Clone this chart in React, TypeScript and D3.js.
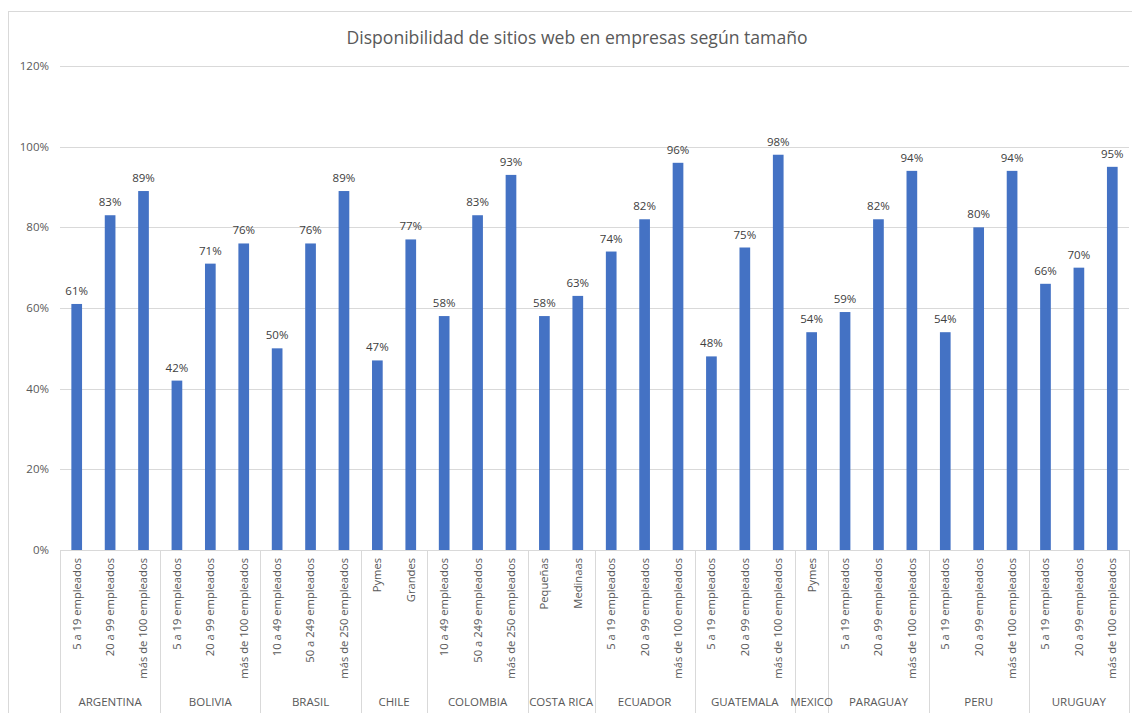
import React from "react";
import * as d3 from "d3";

// Countries (outer axis level) and how many size bands each one reports
const countries = [
  "ARGENTINA", "BOLIVIA", "BRASIL", "CHILE", "COLOMBIA", "COSTA RICA",
  "ECUADOR", "GUATEMALA", "MEXICO", "PARAGUAY", "PERU", "URUGUAY",
];

const sizesArgentina = ["5 a 19 empleados", "20 a 99 empleados", "más de 100 empleados"];
const sizesBrasil = ["10 a 49 empleados", "50 a 249 empleados", "más de 250 empleados"];
const sizesChile = ["Pymes", "Grandes"];
const sizesCostaRica = ["Pequeñas", "Medinaas"];
const sizesMexico = ["Pymes"];

const sizeLabels: string[][] = [
  sizesArgentina, // ARGENTINA
  sizesArgentina, // BOLIVIA
  sizesBrasil, // BRASIL
  sizesChile, // CHILE
  sizesBrasil, // COLOMBIA
  sizesCostaRica, // COSTA RICA
  sizesArgentina, // ECUADOR
  sizesArgentina, // GUATEMALA
  sizesMexico, // MEXICO
  sizesArgentina, // PARAGUAY
  sizesArgentina, // PERU
  sizesArgentina, // URUGUAY
];

// Share of companies with a website, per country and size band
const webShare: number[][] = [
  [0.61, 0.83, 0.89],
  [0.42, 0.71, 0.76],
  [0.5, 0.76, 0.89],
  [0.47, 0.77],
  [0.58, 0.83, 0.93],
  [0.58, 0.63],
  [0.74, 0.82, 0.96],
  [0.48, 0.75, 0.98],
  [0.54],
  [0.59, 0.82, 0.94],
  [0.54, 0.8, 0.94],
  [0.66, 0.7, 0.95],
];

const yTicks = [0, 0.2, 0.4, 0.6, 0.8, 1.0, 1.2];

const title = "Disponibilidad de sitios web en empresas según tamaño";

type Bar = { key: string; country: number; label: string; value: number };

const bars: Bar[] = [];
countries.forEach((_, ci) => {
  sizeLabels[ci].forEach((label, si) => {
    bars.push({ key: `${ci}-${si}`, country: ci, label, value: webShare[ci][si] });
  });
});

const W = 1132;
const H = 713;
const plot = { left: 60, right: 1129, top: 66, bottom: 550 };
const FONT = "'Open Sans', 'Noto Sans', sans-serif";
const GRID = "#D9D9D9";
const TEXT = "#595959";
const BAR = "#4472C4";

export default function App() {
  const x = d3
    .scaleBand<string>()
    .domain(bars.map((b) => b.key))
    .range([plot.left, plot.right])
    .paddingInner(0.68)
    .paddingOuter(0.34);
  const step = x.step();
  const y = d3.scaleLinear().domain([0, 1.2]).range([plot.bottom, plot.top]);
  const pct = d3.format(".0%");

  // Boundaries between country groups on the category axis
  const groupEdges: number[] = [plot.left];
  const groupSpans: { name: string; x0: number; x1: number }[] = [];
  let idx = 0;
  countries.forEach((name, ci) => {
    const n = sizeLabels[ci].length;
    const x0 = plot.left + idx * step;
    idx += n;
    const x1 = plot.left + idx * step;
    groupEdges.push(x1);
    groupSpans.push({ name, x0, x1 });
  });

  return (
    <svg
      width={W}
      height={H}
      style={{ position: "absolute", left: 0, top: 0, background: "#fff" }}
      fontFamily={FONT}
    >
      <rect x={8.5} y={11.5} width={1140} height={720} fill="#fff" stroke={GRID} />

      <text x={577} y={44} textAnchor="middle" fontSize={17.6} fill={TEXT}>
        {title}
      </text>

      {yTicks.map((t) => (
        <g key={t}>
          <line
            x1={plot.left}
            x2={plot.right}
            y1={Math.round(y(t)) + 0.5}
            y2={Math.round(y(t)) + 0.5}
            stroke={GRID}
            strokeWidth={1}
          />
          <text
            x={49}
            y={y(t)}
            dy="0.35em"
            textAnchor="end"
            fontSize={11.5}
            fill={TEXT}
          >
            {pct(t)}
          </text>
        </g>
      ))}

      {bars.map((b) => {
        const bx = x(b.key)!;
        const bw = x.bandwidth();
        return (
          <g key={b.key}>
            <rect x={bx} y={y(b.value)} width={bw} height={y(0) - y(b.value)} fill={BAR} />
            <text
              x={bx + bw / 2}
              y={y(b.value) - 9}
              textAnchor="middle"
              fontSize={11.5}
              fill="#404040"
            >
              {pct(b.value)}
            </text>
            <text
              transform={`translate(${bx + bw / 2},558) rotate(-90)`}
              dy="0.35em"
              textAnchor="end"
              fontSize={11.2}
              fill={TEXT}
            >
              {b.label}
            </text>
          </g>
        );
      })}

      {groupEdges.map((gx, i) => (
        <line
          key={i}
          x1={Math.round(gx) + 0.5}
          x2={Math.round(gx) + 0.5}
          y1={plot.bottom}
          y2={H}
          stroke={GRID}
        />
      ))}

      {groupSpans.map((g) => (
        <text
          key={g.name}
          x={(g.x0 + g.x1) / 2}
          y={702}
          dy="0.35em"
          textAnchor="middle"
          fontSize={11.5}
          fill={TEXT}
        >
          {g.name}
        </text>
      ))}
    </svg>
  );
}
